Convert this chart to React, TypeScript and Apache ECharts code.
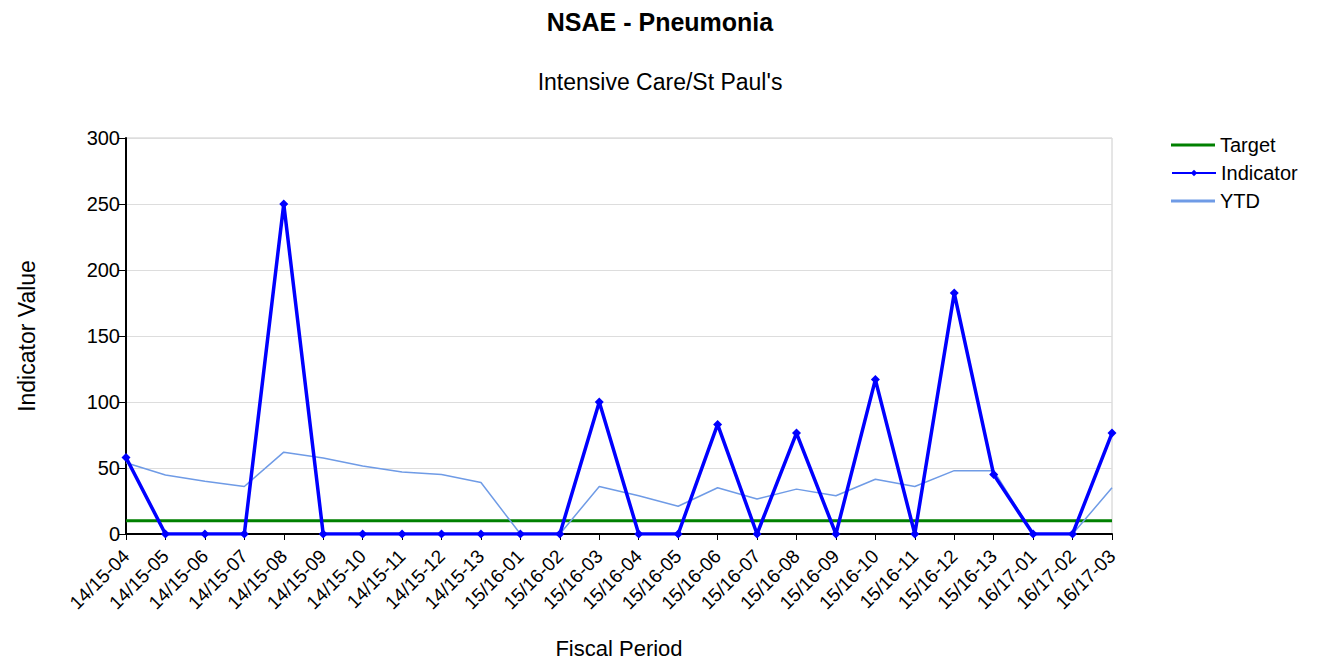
import React, { useEffect, useRef } from "react";
import * as echarts from "echarts";

const categories = [
  "14/15-04", "14/15-05", "14/15-06", "14/15-07", "14/15-08", "14/15-09", "14/15-10",
  "14/15-11", "14/15-12", "14/15-13", "15/16-01", "15/16-02", "15/16-03", "15/16-04",
  "15/16-05", "15/16-06", "15/16-07", "15/16-08", "15/16-09", "15/16-10", "15/16-11",
  "15/16-12", "15/16-13", "16/17-01", "16/17-02", "16/17-03",
];
const targetValues = categories.map(() => 10);
const indicatorValues = [
  58, 0, 0, 0, 250, 0, 0, 0, 0, 0, 0, 0, 100, 0, 0, 83, 0, 76.5, 0, 117, 0, 182.5, 45, 0, 0, 76.5,
];
const ytdValues = [
  54, 44.7, 40, 36, 62, 57.5, 51.5, 47, 45, 39, 0, 0, 36, 29, 21, 35, 26.5, 34, 29, 41.5, 36, 48, 48, 0, 0, 35,
];

const FONT = "Liberation Sans, Arial, sans-serif";
const GREEN = "#008000";
const BLUE = "#0000ff";
const LIGHT = "#6f9be6";

function legendItem(name: string, top: number, icon: string | null, h: number) {
  const l: any = {
    orient: "vertical",
    left: 1166,
    top,
    itemWidth: 44,
    itemHeight: h,
    textStyle: { fontFamily: FONT, fontSize: 20, color: "#000" },
    data: [icon ? { name, icon } : { name }],
  };
  return l;
}

export default function App() {
  const ref = useRef<HTMLDivElement>(null);
  useEffect(() => {
    if (!ref.current) return;
    const chart = echarts.init(ref.current, null, { renderer: "svg" });
    chart.setOption({
      animation: false,
      backgroundColor: "#ffffff",
      textStyle: { fontFamily: FONT },
      title: [
        {
          text: "NSAE - Pneumonia",
          left: "center",
          top: 9,
          padding: 0,
          textStyle: { fontFamily: FONT, fontSize: 25, fontWeight: "bold", color: "#000" },
        },
        {
          text: "Intensive Care/St Paul's",
          left: "center",
          top: 65,
          textStyle: { fontFamily: FONT, fontSize: 23, fontWeight: "normal", color: "#000" },
        },
      ],
      legend: [
        legendItem("Target", 130, "rect", 3),
        legendItem("Indicator", 158, null, 8),
        legendItem("YTD", 186, "rect", 3),
      ],
      grid: {
        left: 126,
        right: 208,
        top: 138,
        bottom: 128,
        show: true,
        borderColor: "#cccccc",
        borderWidth: 1,
        containLabel: false,
        outerBoundsMode: "none",
      },
      xAxis: {
        type: "category",
        data: categories,
        boundaryGap: false,
        name: "Fiscal Period",
        nameLocation: "middle",
        nameGap: 103,
        nameMoveOverlap: false,
        nameTextStyle: { fontFamily: FONT, fontSize: 22, color: "#000" },
        axisLine: { lineStyle: { color: "#000", width: 2 } },
        axisTick: { show: true, length: 6, lineStyle: { color: "#000" } },
        axisLabel: {
          rotate: 45,
          interval: 0,
          fontFamily: FONT,
          fontSize: 19,
          color: "#000",
          margin: 19,
        },
        splitLine: { show: false },
      },
      yAxis: {
        type: "value",
        min: 0,
        max: 300,
        interval: 50,
        name: "Indicator Value",
        nameLocation: "middle",
        nameGap: 88,
        nameMoveOverlap: false,
        nameRotate: 90,
        nameTextStyle: { fontFamily: FONT, fontSize: 23, color: "#000" },
        axisLine: { show: true, lineStyle: { color: "#000", width: 2 } },
        axisTick: { show: true, length: 8, lineStyle: { color: "#000" } },
        axisLabel: { fontFamily: FONT, fontSize: 20, color: "#000", margin: 6 },
        splitLine: { show: true, lineStyle: { color: "#dddddd", width: 1 } },
      },
      series: [
        {
          name: "Target",
          type: "line",
          data: targetValues,
          showSymbol: false,
          symbol: "none",
          lineStyle: { color: GREEN, width: 3 },
          itemStyle: { color: GREEN },
          z: 2,
        },
        {
          name: "Indicator",
          type: "line",
          data: indicatorValues,
          symbol: "diamond",
          symbolSize: 9,
          lineStyle: { color: BLUE, width: 3.5 },
          itemStyle: { color: BLUE },
          z: 5,
        },
        {
          name: "YTD",
          type: "line",
          data: ytdValues,
          showSymbol: false,
          symbol: "none",
          lineStyle: { color: LIGHT, width: 1.5 },
          itemStyle: { color: LIGHT },
          z: 3,
        },
      ],
    });
    return () => chart.dispose();
  }, []);
  return (
    <div
      ref={ref}
      style={{ position: "absolute", left: 0, top: 0, width: 1320, height: 662 }}
    />
  );
}
